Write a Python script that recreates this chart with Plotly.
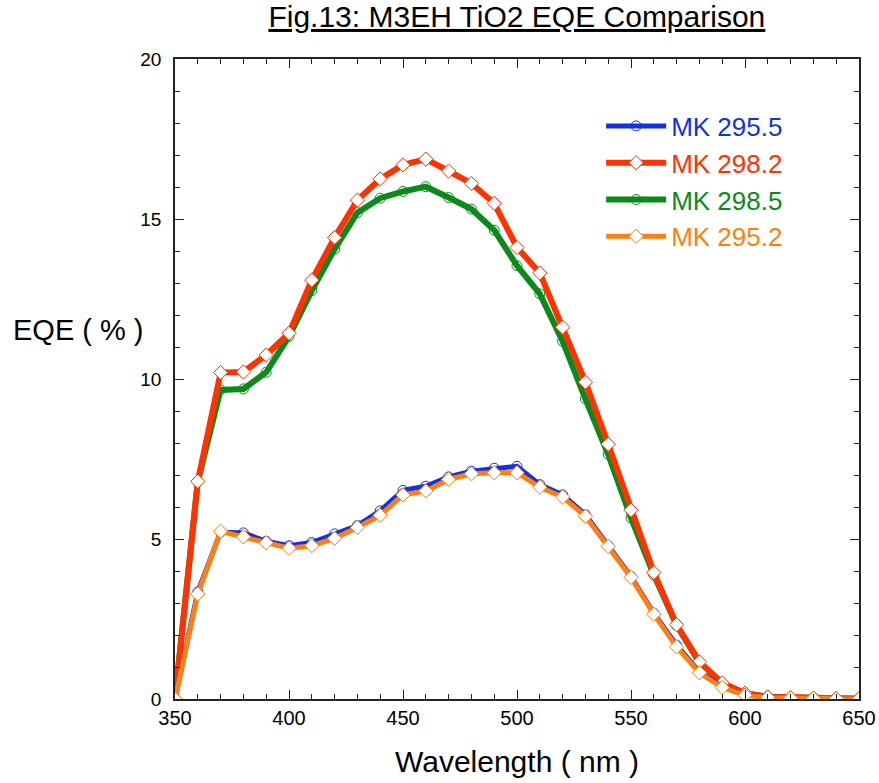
import plotly.graph_objects as go

wavelength = list(range(350, 651, 10))

mk_295_5 = [0, 3.35, 5.22, 5.19, 4.93, 4.79, 4.89, 5.16, 5.42, 5.88, 6.52, 6.65, 6.94, 7.12, 7.21, 7.27,
            6.70, 6.38, 5.76, 4.79, 3.83, 2.68, 1.68, 0.85, 0.38, 0.12, 0.06, 0.03, 0.02, 0.01, 0.0]
mk_298_2 = [0, 6.80, 10.20, 10.22, 10.75, 11.43, 13.09, 14.42, 15.59, 16.25, 16.69, 16.87, 16.50, 16.11,
            15.49, 14.11, 13.31, 11.62, 9.90, 7.96, 5.90, 3.95, 2.32, 1.16, 0.50, 0.18, 0.07, 0.04, 0.03,
            0.02, 0.01]
mk_298_5 = [0, 6.80, 9.66, 9.69, 10.21, 11.33, 12.76, 14.06, 15.20, 15.65, 15.86, 16.01, 15.67, 15.31,
            14.65, 13.54, 12.66, 11.18, 9.38, 7.64, 5.66, 3.88, 2.30, 1.14, 0.49, 0.18, 0.07, 0.04, 0.03,
            0.02, 0.01]
mk_295_2 = [0, 3.28, 5.24, 5.07, 4.88, 4.71, 4.79, 5.02, 5.36, 5.74, 6.38, 6.50, 6.86, 7.04, 7.07, 7.07,
            6.62, 6.31, 5.71, 4.77, 3.80, 2.65, 1.63, 0.82, 0.36, 0.12, 0.05, 0.03, 0.02, 0.01, 0.0]

names = ["MK 295.5", "MK 298.2", "MK 298.5", "MK 295.2"]
colors = ["#1133dd", "#ff3300", "#0a8a1a", "#ff7f14"]
x_ticks = [350, 400, 450, 500, 550, 600, 650]
y_ticks = [0, 5, 10, 15, 20]

fig = go.Figure()

specs = [
    # (series, name idx, symbol, fill, line width, marker size, rank)
    (mk_298_5, 2, "circle-open", None, 6, 10, 3),
    (mk_298_2, 1, "diamond", "white", 6, 11, 2),
    (mk_295_5, 0, "circle-open", None, 5, 10, 1),
    (mk_295_2, 3, "diamond", "white", 5, 11, 4),
]
for series, idx, sym, fill, lw, ms, rank in specs:
    c = colors[idx]
    marker = dict(symbol=sym, size=ms, color=fill if fill else c,
                  line=dict(color=c, width=1))
    fig.add_trace(go.Scatter(
        x=wavelength, y=series, mode="lines+markers",
        name=f"<span style='color:{c}'>{names[idx]}</span>",
        line=dict(color=c, width=lw), marker=marker, legendrank=rank,
    ))

fig.update_layout(
    width=879, height=783,
    margin=dict(l=175, r=20, t=59, b=84, autoexpand=False),
    paper_bgcolor="white", plot_bgcolor="white",
    font=dict(family="Liberation Sans, Arial, sans-serif", color="black"),
    title=dict(text="<u>Fig.13: M3EH TiO2 EQE Comparison</u>", x=0.588, xanchor="center",
               y=0.979, yanchor="middle", font=dict(size=30)),
    showlegend=True,
    legend=dict(x=0.623, y=0.932, xanchor="left", yanchor="top",
                bgcolor="rgba(0,0,0,0)", font=dict(size=26), tracegroupgap=0,
                itemwidth=60),
    xaxis=dict(range=[350, 650], tickvals=x_ticks, ticks="inside", ticklen=9, tickwidth=1.2,
               tickcolor="#222", showline=True, linecolor="#222", linewidth=1.5, mirror="ticks",
               showgrid=False, zeroline=False, tickfont=dict(size=20), automargin=False,
               minor=dict(dtick=10, ticks="inside", ticklen=5, tickcolor="#222", showgrid=False)),
    yaxis=dict(range=[0, 20], tickvals=y_ticks, ticks="inside", ticklen=9, tickwidth=1.2,
               tickcolor="#222", showline=True, linecolor="#222", linewidth=1.5, mirror="ticks",
               showgrid=False, zeroline=False, tickfont=dict(size=19), ticklabelstandoff=8,
               automargin=False,
               minor=dict(dtick=1, ticks="inside", ticklen=5, tickcolor="#222", showgrid=False)),
    annotations=[
        dict(text="EQE ( % )", xref="paper", yref="paper", x=-0.1418, y=0.577,
             xanchor="center", yanchor="middle", showarrow=False, font=dict(size=29)),
        dict(text="Wavelength ( nm )", xref="paper", yref="paper", x=0.5, y=-0.097,
             xanchor="center", yanchor="middle", showarrow=False, font=dict(size=30)),
    ],
)

fig.write_html("out.html")
